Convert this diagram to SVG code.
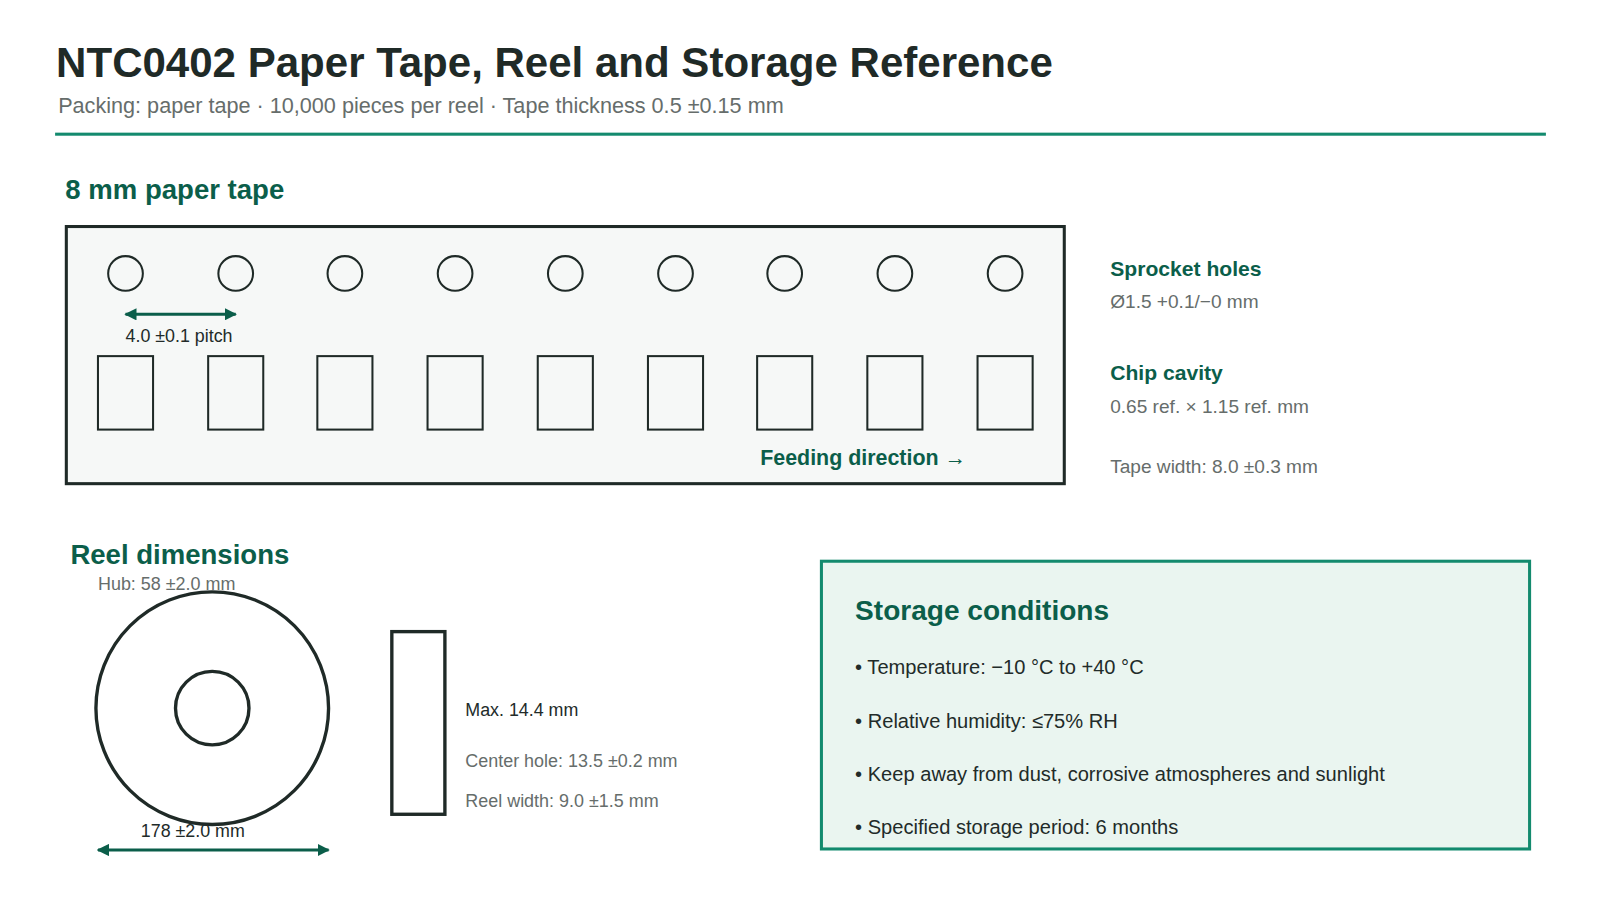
<svg xmlns="http://www.w3.org/2000/svg" width="1600" height="900" viewBox="0 0 1600 900">
<defs>
<marker id="ah" viewBox="0 0 10 10" refX="9" refY="5" markerWidth="4" markerHeight="4" orient="auto-start-reverse"><path d="M0,0L10,5L0,10z" fill="#0b5e4a"/></marker>
<style>
text{font-family:"Liberation Sans",Arial,sans-serif}
.h{fill:#0b5e4a;font-weight:bold}
.g{fill:#666d6b;font-size:18.7px}
.gs{fill:#666d6b;font-size:17.6px}
.d{fill:#222b29;font-size:17.5px}
.ln{fill:none;stroke:#1f2a27;stroke-width:2}
.lt{fill:none;stroke:#1f2a27;stroke-width:3.3}
.dim{stroke:#0b5e4a;stroke-width:3;marker-start:url(#ah);marker-end:url(#ah)}
.b{fill:#222b29;font-size:19.7px}
</style>
</defs>
<rect width="1600" height="900" fill="#fff"/>
<g transform="scale(1.0204)">
<text x="55" y="75" font-size="41.2" font-weight="bold" fill="#1f2a27">NTC0402 Paper Tape, Reel and Storage Reference</text>
<text x="57" y="111" font-size="21.2" fill="#666d6b">Packing: paper tape · 10,000 pieces per reel · Tape thickness 0.5 ±0.15 mm</text>
<rect x="54" y="130" width="1461" height="3" fill="#138a6e"/>
<text class="h" x="64" y="195" font-size="27">8 mm paper tape</text>
<g id="tape">
<rect x="65" y="222" width="978" height="252" fill="#f6f8f7" stroke="#1f2a27" stroke-width="3"/>
<g class="ln">
<circle cx="123" cy="268" r="17"/><circle cx="231" cy="268" r="17"/><circle cx="338" cy="268" r="17"/><circle cx="446" cy="268" r="17"/><circle cx="554" cy="268" r="17"/><circle cx="662" cy="268" r="17"/><circle cx="769" cy="268" r="17"/><circle cx="877" cy="268" r="17"/><circle cx="985" cy="268" r="17"/>
<rect x="96" y="349" width="54" height="72"/><rect x="204" y="349" width="54" height="72"/><rect x="311" y="349" width="54" height="72"/><rect x="419" y="349" width="54" height="72"/><rect x="527" y="349" width="54" height="72"/><rect x="635" y="349" width="54" height="72"/><rect x="742" y="349" width="54" height="72"/><rect x="850" y="349" width="54" height="72"/><rect x="958" y="349" width="54" height="72"/>
</g>
<text class="d" x="123" y="335">4.0 ±0.1 pitch</text>
<text class="h" x="745" y="456" font-size="21">Feeding direction →</text>
</g>
<g id="tape-notes">
<text class="h" x="1088" y="270" font-size="20.7">Sprocket holes</text>
<text class="g" x="1088" y="302">Ø1.5 +0.1/−0 mm</text>
<text class="h" x="1088" y="372" font-size="20.7">Chip cavity</text>
<text class="g" x="1088" y="405">0.65 ref. × 1.15 ref. mm</text>
<text class="g" x="1088" y="464">Tape width: 8.0 ±0.3 mm</text>
</g>
<text class="h" x="69" y="553" font-size="27">Reel dimensions</text>
<g id="reel">
<circle class="lt" cx="208" cy="694" r="114"/>
<circle class="lt" cx="208" cy="694" r="36"/>
<rect class="lt" x="384" y="619" width="52" height="179"/>
<text class="gs" x="96" y="578">Hub: 58 ±2.0 mm</text>
<text class="d" x="138" y="820">178 ±2.0 mm</text>
<text class="d" x="456" y="702">Max. 14.4 mm</text>
<text class="gs" x="456" y="752">Center hole: 13.5 ±0.2 mm</text>
<text class="gs" x="456" y="791">Reel width: 9.0 ±1.5 mm</text>
</g>
<g id="connectors">
<line class="dim" x1="123" y1="308" x2="231" y2="308"/>
<line class="dim" x1="96" y1="833" x2="322" y2="833"/>
</g>
<g id="storage">
<rect x="805" y="550" width="694" height="282" fill="#eaf5f0" stroke="#138a6e" stroke-width="3"/>
<text class="h" x="838" y="608" font-size="27.5">Storage conditions</text>
<text class="b" x="838" y="661">• Temperature: −10 °C to +40 °C</text>
<text class="b" x="838" y="713">• Relative humidity: ≤75% RH</text>
<text class="b" x="838" y="765">• Keep away from dust, corrosive atmospheres and sunlight</text>
<text class="b" x="838" y="817">• Specified storage period: 6 months</text>
</g>
</g>
</svg>
